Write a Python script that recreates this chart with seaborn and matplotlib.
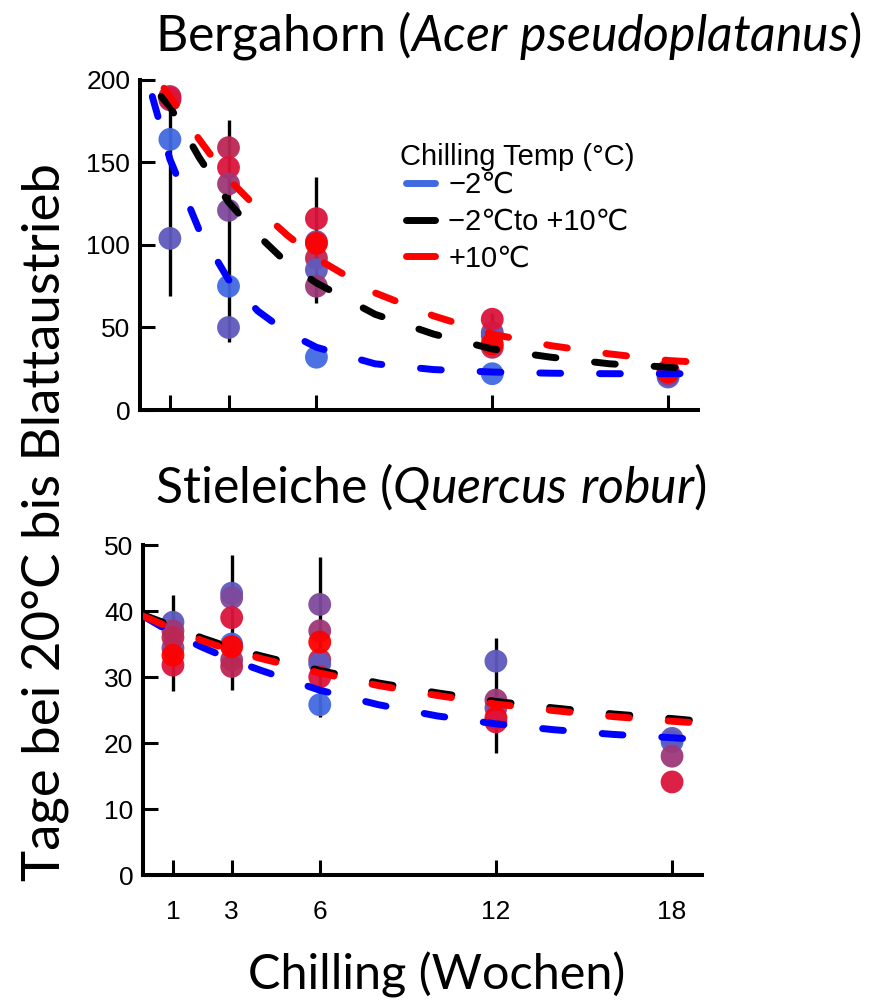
import matplotlib
matplotlib.use("Agg")
import matplotlib.pyplot as plt
from matplotlib.lines import Line2D
import numpy as np
import pandas as pd
import seaborn as sns


# Gruppenfarben (blau = -2 C ... rot = +10 C)
gruppen = ["g1", "g2", "g3", "g4", "g5", "g6", "g7"]
farben = ["#4169E1", "#5F5ABD", "#7E4A9C", "#9D3878", "#BC2754", "#DC143C", "#FF0000"]

# Bergahorn: Einzelwerte
ahorn_wochen = [1, 1, 1, 1, 1,
                3, 3, 3, 3, 3, 3,
                6, 6, 6, 6, 6, 6, 6,
                12, 12, 12, 12, 12, 12,
                18, 18, 18, 18, 18]
ahorn_gruppe = ["g4", "g5", "g6", "g1", "g2",
                "g5", "g6", "g4", "g3", "g1", "g2",
                "g6", "g3", "g5", "g2", "g4", "g7", "g1",
                "g3", "g2", "g6", "g5", "g7", "g1",
                "g1", "g2", "g4", "g5", "g7"]
ahorn_tage = [188, 190, 189, 164, 104,
              159, 147, 137, 121, 75, 50,
              116, 102, 92, 85, 75, 101, 32,
              47, 45, 55, 38, 40, 22,
              21, 20, 22, 24, 23]

# Stieleiche: Einzelwerte
eiche_wochen = [1, 1, 1, 1, 1, 1,
                3, 3, 3, 3, 3, 3, 3,
                6, 6, 6, 6, 6, 6, 6,
                12, 12, 12, 12, 12,
                18, 18, 18, 18]
eiche_gruppe = ["g2", "g3", "g4", "g5", "g6", "g7",
                "g2", "g3", "g6", "g1", "g4", "g5", "g7",
                "g3", "g4", "g5", "g2", "g6", "g7", "g1",
                "g2", "g4", "g3", "g7", "g6",
                "g1", "g2", "g4", "g6"]
eiche_tage = [38.3, 34.4, 37.0, 36.0, 31.8, 33.3,
              42.7, 42.0, 39.0, 35.0, 32.6, 31.6, 34.6,
              41.0, 37.0, 32.6, 32.0, 30.0, 35.3, 25.8,
              32.4, 26.5, 25.3, 23.8, 23.2,
              20.2, 20.7, 18.0, 14.1]

# Fehlerbalken
ahorn_fb_wochen = [1, 3, 6, 12]
ahorn_fb_min = [69, 41, 65, 36]
ahorn_fb_max = [190, 176, 141, 59]
eiche_fb_wochen = [1, 3, 6, 12]
eiche_fb_min = [27.9, 28.0, 24.0, 18.5]
eiche_fb_max = [42.4, 48.5, 48.2, 35.9]

# Modellkurven
ahorn_kalt_w = [0.4, 1, 2, 3, 4, 5, 6, 8, 10, 12, 14, 16, 19]
ahorn_kalt = [190, 152, 109, 79, 60, 47, 38, 28, 24.5, 23, 22.3, 22, 22]
ahorn_misch_w = [0.7, 1, 2, 3, 4, 5, 6, 8, 10, 12, 14, 16, 18, 19]
ahorn_misch = [190, 184, 153, 126, 106, 89, 77, 58, 46, 37, 32, 28, 26, 25]
ahorn_warm_w = [0.8, 1, 2, 3, 4, 5, 6, 8, 10, 12, 14, 16, 18, 19]
ahorn_warm = [195, 190, 164, 140, 122, 106, 92, 71, 57, 46, 39, 34, 30, 29]

eiche_w = [0, 1, 2, 3, 4, 5, 6, 8, 10, 12, 14, 16, 18, 19]
eiche_kalt = [39.2, 36.6, 34.5, 32.6, 31.0, 29.5, 28.0, 25.8, 24.1, 22.9, 22.0, 21.3, 20.8, 20.5]
eiche_misch = [39.4, 37.7, 35.9, 34.4, 33.2, 32.1, 31.0, 29.1, 27.6, 26.3, 25.3, 24.4, 23.7, 23.3]
eiche_warm = [39.2, 37.3, 35.5, 34.0, 32.8, 31.7, 30.6, 28.7, 27.2, 25.9, 24.9, 24.0, 23.3, 23.0]

serien = ["kalt", "misch", "warm"]
serien_farben = {"kalt": "#0000FF", "misch": "#000000", "warm": "#FF0000"}
legende_farben = ["#4169E1", "#000000", "#FF0000"]
legende_texte = ["\u22122\u2103", "\u22122\u2103to +10\u2103", "+10\u2103"]
wochen_ticks = [1, 3, 6, 12, 18]

sns.set_style("ticks")
plt.rcParams["font.family"] = ["Liberation Sans", "DejaVu Sans"]
plt.rcParams["mathtext.fontset"] = "custom"
plt.rcParams["mathtext.rm"] = "Lato"
plt.rcParams["mathtext.it"] = "Lato:italic"
plt.rcParams["lines.dash_capstyle"] = "round"
plt.rcParams["lines.solid_capstyle"] = "round"
for k in ["text.color", "axes.labelcolor", "axes.edgecolor", "xtick.color", "ytick.color"]:
    plt.rcParams[k] = "black"


def kurven_df(wl, werte):
    rows = []
    for s, w, v in zip(serien, wl, werte):
        for a, b in zip(w, v):
            rows.append({"woche": a, "tage": b, "serie": s})
    return pd.DataFrame(rows)


def panel(ax, wochen, gruppe, tage, fbw, fbmin, fbmax, kurven, ylim, yticks):
    ax.vlines(fbw, fbmin, fbmax, color="black", lw=2.4, zorder=1)
    pts = pd.DataFrame({"woche": wochen, "tage": tage, "gruppe": gruppe})
    sns.scatterplot(data=pts, x="woche", y="tage", hue="gruppe",
                    hue_order=gruppen, palette=farben, s=270, alpha=0.95,
                    linewidth=0, legend=False, ax=ax, zorder=2, clip_on=False)
    sns.lineplot(data=kurven, x="woche", y="tage", hue="serie", style="serie",
                 palette=serien_farben, dashes={s: (3.0, 5.6) for s in serien},
                 linewidth=5, legend=False, ax=ax, zorder=3, sort=False)
    ax.set_xlim(-0.02, 19.02)
    ax.set_ylim(*ylim)
    ax.set_yticks(yticks)
    ax.set_xticks(wochen_ticks)
    ax.set_xlabel("")
    ax.set_ylabel("")
    for side in ["top", "right"]:
        ax.spines[side].set_visible(False)
    for side in ["left", "bottom"]:
        ax.spines[side].set_linewidth(2.9)
    ax.tick_params(direction="in", length=11, width=2.2, labelsize=19)
    ax.tick_params(axis="y", pad=7)
    ax.tick_params(axis="x", pad=18)


fig = plt.figure(figsize=(8.76, 10.05), dpi=100)
ax1 = fig.add_axes([140 / 876, 1 - 410 / 1005, 558 / 876, 330 / 1005])
ax2 = fig.add_axes([143 / 876, 1 - 875 / 1005, 559 / 876, 330 / 1005])

panel(ax1, ahorn_wochen, ahorn_gruppe, ahorn_tage,
      ahorn_fb_wochen, ahorn_fb_min, ahorn_fb_max,
      kurven_df([ahorn_kalt_w, ahorn_misch_w, ahorn_warm_w],
                [ahorn_kalt, ahorn_misch, ahorn_warm]),
      (0, 200), [0, 50, 100, 150, 200])
ax1.set_xticklabels([])

panel(ax2, eiche_wochen, eiche_gruppe, eiche_tage,
      eiche_fb_wochen, eiche_fb_min, eiche_fb_max,
      kurven_df([eiche_w, eiche_w, eiche_w],
                [eiche_kalt, eiche_misch, eiche_warm]),
      (0, 50), [0, 10, 20, 30, 40, 50])

handles = [Line2D([], [], color=c, lw=5, solid_capstyle="round") for c in legende_farben]
leg = fig.legend(handles, legende_texte, title="Chilling Temp (\u00b0C)",
                 loc="upper left", bbox_to_anchor=(400 / 876, 1 - 143 / 1005),
                 frameon=False, fontsize=21, title_fontsize=21, handlelength=1.0,
                 handletextpad=0.45, labelspacing=0.3, borderpad=0, borderaxespad=0)
# Titel dichter an die Eintraege
leg._legend_box.sep = 0

titel_font = ["Lato", "DejaVu Sans"]
fig.text(155 / 876, 1 - 35 / 1005, r"Bergahorn ($\mathit{Acer\ pseudoplatanus}$)",
         fontsize=36, family=titel_font, ha="left", va="center")
fig.text(155 / 876, 1 - 487 / 1005, r"Stieleiche ($\mathit{Quercus\ robur}$)",
         fontsize=36, family=titel_font, ha="left", va="center")
fig.text(45 / 876, 1 - 522 / 1005, "Tage bei 20\u00b0C bis Blattaustrieb",
         fontsize=38, family=titel_font, rotation=90, ha="center", va="center")
fig.text(437 / 876, 1 - 975 / 1005, "Chilling (Wochen)",
         fontsize=35, family=titel_font, ha="center", va="center")

fig.savefig("out.png", dpi=100)
